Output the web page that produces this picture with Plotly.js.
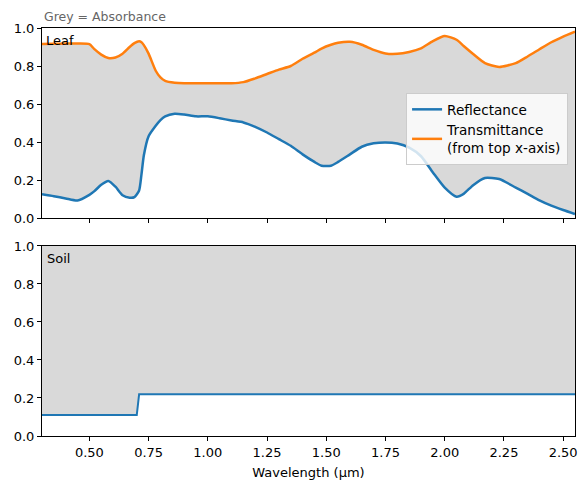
<!DOCTYPE html>
<html>
<head>
<meta charset="utf-8">
<script src="https://cdn.plot.ly/plotly-3.0.1.min.js"></script>
<style>html,body{margin:0;padding:0;background:#fff;}#chart{width:588px;height:490px;}</style>
</head>
<body>
<div id="chart"></div>
<script>
var wavelength = [0.30,0.35,0.40,0.45,0.50,0.52,0.55,0.58,0.61,0.64,0.67,0.69,0.71,0.72,0.73,0.75,0.78,0.80,0.82,0.86,0.90,0.95,1.00,1.05,1.10,1.15,1.20,1.25,1.30,1.35,1.40,1.45,1.48,1.52,1.55,1.60,1.65,1.70,1.75,1.80,1.85,1.90,1.95,2.00,2.05,2.08,2.12,2.17,2.23,2.30,2.35,2.40,2.45,2.50,2.55];
var leafReflectance = [0.125,0.115,0.103,0.092,0.122,0.140,0.175,0.195,0.165,0.120,0.107,0.110,0.145,0.230,0.330,0.430,0.485,0.515,0.535,0.549,0.545,0.535,0.535,0.525,0.513,0.503,0.480,0.450,0.415,0.380,0.335,0.295,0.275,0.275,0.295,0.335,0.375,0.393,0.398,0.392,0.370,0.325,0.240,0.160,0.112,0.127,0.173,0.211,0.205,0.160,0.127,0.093,0.065,0.042,0.021];
var leafTransmittance = [0.084,0.083,0.082,0.082,0.085,0.110,0.140,0.158,0.155,0.135,0.100,0.080,0.070,0.075,0.090,0.135,0.225,0.260,0.278,0.288,0.291,0.291,0.291,0.291,0.291,0.285,0.265,0.242,0.219,0.200,0.162,0.130,0.108,0.088,0.078,0.073,0.088,0.115,0.134,0.136,0.126,0.107,0.069,0.042,0.062,0.095,0.137,0.185,0.205,0.185,0.150,0.112,0.075,0.045,0.019];
var soilWavelength = [0.30,0.70,0.71,2.55];
var soilReflectance = [0.11,0.11,0.22,0.22];
var xTicks = [0.50,0.75,1.00,1.25,1.50,1.75,2.00,2.25,2.50];
var yTicks = [0.0,0.2,0.4,0.6,0.8,1.0];

var transFromTop = leafTransmittance.map(function(t){return 1 - t;});
var soilTop = soilWavelength.map(function(){return 1;});
var grey = '#d9d9d9';
var blue = '#1f77b4', orange = '#ff7f0e';

var traces = [
  {x: wavelength, y: leafReflectance, xaxis:'x', yaxis:'y', mode:'lines', line:{width:0, color:grey}, showlegend:false, hoverinfo:'skip'},
  {x: wavelength, y: transFromTop, xaxis:'x', yaxis:'y', mode:'lines', line:{width:0, color:grey}, fill:'tonexty', fillcolor:grey, showlegend:false, hoverinfo:'skip'},
  {x: wavelength, y: leafReflectance, xaxis:'x', yaxis:'y', mode:'lines', name:'Reflectance', line:{color:blue, width:2.5, shape:'spline', smoothing:0.6}},
  {x: wavelength, y: transFromTop, xaxis:'x', yaxis:'y', mode:'lines', name:'Transmittance<br>(from top x-axis)', line:{color:orange, width:2.5, shape:'spline', smoothing:0.6}},
  {x: soilWavelength, y: soilTop, xaxis:'x2', yaxis:'y2', mode:'lines', line:{width:0, color:grey}, showlegend:false, hoverinfo:'skip'},
  {x: soilWavelength, y: soilReflectance, xaxis:'x2', yaxis:'y2', mode:'lines', line:{color:blue, width:2}, fill:'tonexty', fillcolor:grey, showlegend:false}
];

var axisCommon = {
  showline:true, mirror:true, linecolor:'#000', linewidth:1,
  ticks:'outside', ticklen:4, tickcolor:'#000', tickwidth:1,
  showgrid:false, zeroline:false,
  tickfont:{family:'DejaVu Sans', size:13, color:'#000'}
};

var layout = {
  width:588, height:490,
  margin:{l:42, r:13, t:28, b:54},
  paper_bgcolor:'#fff', plot_bgcolor:'#fff',
  font:{family:'DejaVu Sans', size:13, color:'#000'},
  xaxis: Object.assign({}, axisCommon, {domain:[0,1], anchor:'y', range:[0.30,2.55], tickvals:xTicks, showticklabels:false, matches:'x2'}),
  yaxis: Object.assign({}, axisCommon, {domain:[0.5343,1], anchor:'x', range:[0,1], tickvals:yTicks, tickformat:'.1f'}),
  xaxis2: Object.assign({}, axisCommon, {domain:[0,1], anchor:'y2', range:[0.30,2.55], tickvals:xTicks, tickformat:'.2f',
    title:{text:'Wavelength (µm)', font:{family:'DejaVu Sans', size:13, color:'#000'}, standoff:9}}),
  yaxis2: Object.assign({}, axisCommon, {domain:[0,0.4657], anchor:'x2', range:[0,1], tickvals:yTicks, tickformat:'.1f'}),
  legend:{x:0.987, xanchor:'right', y:0.8407, yanchor:'top', bgcolor:'rgba(255,255,255,0.8)', bordercolor:'#cccccc', borderwidth:1,
    traceorder:'normal', font:{family:'DejaVu Sans', size:13.6, color:'#000'}, tracegroupgap:2},
  annotations:[
    {text:'Grey = Absorbance', xref:'paper', yref:'paper', x:0, y:1, xanchor:'left', yanchor:'bottom', yshift:2, showarrow:false,
      font:{family:'DejaVu Sans', size:12.5, color:'#666'}},
    {text:'Leaf', xref:'x domain', yref:'y domain', x:0.003, y:0.985, xanchor:'left', yanchor:'top', showarrow:false,
      font:{family:'DejaVu Sans', size:13, color:'#000'}},
    {text:'Soil', xref:'x2 domain', yref:'y2 domain', x:0.006, y:0.985, xanchor:'left', yanchor:'top', showarrow:false,
      font:{family:'DejaVu Sans', size:13, color:'#000'}}
  ]
};

Plotly.newPlot('chart', traces, layout, {displayModeBar:false, staticPlot:true});
</script>
</body>
</html>
